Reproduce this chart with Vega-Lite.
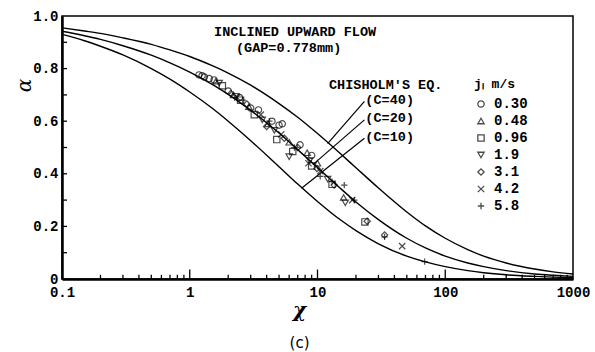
{
  "$schema": "https://vega.github.io/schema/vega-lite/v6.json",
  "width": 511,
  "height": 263,
  "autosize": {"type": "none"},
  "padding": {"left": 62, "top": 16, "right": 22, "bottom": 73},
  "background": "white",
  "config": {
    "view": {"stroke": "black", "strokeWidth": 1.5},
    "font": "Liberation Mono"
  },
  "title": {"text": "(c)", "orient": "bottom", "font": "DejaVu Sans", "fontSize": 15, "fontWeight": "normal", "offset": 16, "dx": -18, "color": "black"},
  "datasets": {
    "curves": [
      {"X": 0.1, "alpha": 0.955, "C": "40"}, {"X": 0.15, "alpha": 0.943, "C": "40"}, {"X": 0.2, "alpha": 0.934, "C": "40"}, {"X": 0.3, "alpha": 0.917, "C": "40"}, {"X": 0.5, "alpha": 0.892, "C": "40"}, {"X": 0.7, "alpha": 0.871, "C": "40"}, {"X": 1, "alpha": 0.846, "C": "40"}, {"X": 1.5, "alpha": 0.811, "C": "40"}, {"X": 2, "alpha": 0.783, "C": "40"}, {"X": 3, "alpha": 0.737, "C": "40"}, {"X": 5, "alpha": 0.667, "C": "40"}, {"X": 7, "alpha": 0.615, "C": "40"}, {"X": 10, "alpha": 0.553, "C": "40"}, {"X": 15, "alpha": 0.478, "C": "40"}, {"X": 20, "alpha": 0.423, "C": "40"}, {"X": 30, "alpha": 0.346, "C": "40"}, {"X": 50, "alpha": 0.255, "C": "40"}, {"X": 70, "alpha": 0.202, "C": "40"}, {"X": 100, "alpha": 0.155, "C": "40"}, {"X": 150, "alpha": 0.112, "C": "40"}, {"X": 200, "alpha": 0.087, "C": "40"}, {"X": 300, "alpha": 0.061, "C": "40"}, {"X": 500, "alpha": 0.038, "C": "40"}, {"X": 700, "alpha": 0.027, "C": "40"}, {"X": 1000, "alpha": 0.019, "C": "40"},
      {"X": 0.1, "alpha": 0.942, "C": "20"}, {"X": 0.15, "alpha": 0.925, "C": "20"}, {"X": 0.2, "alpha": 0.911, "C": "20"}, {"X": 0.3, "alpha": 0.887, "C": "20"}, {"X": 0.5, "alpha": 0.851, "C": "20"}, {"X": 0.7, "alpha": 0.822, "C": "20"}, {"X": 1, "alpha": 0.787, "C": "20"}, {"X": 1.5, "alpha": 0.74, "C": "20"}, {"X": 2, "alpha": 0.702, "C": "20"}, {"X": 3, "alpha": 0.641, "C": "20"}, {"X": 5, "alpha": 0.555, "C": "20"}, {"X": 7, "alpha": 0.492, "C": "20"}, {"X": 10, "alpha": 0.424, "C": "20"}, {"X": 15, "alpha": 0.346, "C": "20"}, {"X": 20, "alpha": 0.293, "C": "20"}, {"X": 30, "alpha": 0.226, "C": "20"}, {"X": 50, "alpha": 0.155, "C": "20"}, {"X": 70, "alpha": 0.118, "C": "20"}, {"X": 100, "alpha": 0.087, "C": "20"}, {"X": 150, "alpha": 0.061, "C": "20"}, {"X": 200, "alpha": 0.047, "C": "20"}, {"X": 300, "alpha": 0.032, "C": "20"}, {"X": 500, "alpha": 0.019, "C": "20"}, {"X": 700, "alpha": 0.014, "C": "20"}, {"X": 1000, "alpha": 0.01, "C": "20"},
      {"X": 0.1, "alpha": 0.93, "C": "10"}, {"X": 0.15, "alpha": 0.906, "C": "10"}, {"X": 0.2, "alpha": 0.885, "C": "10"}, {"X": 0.3, "alpha": 0.852, "C": "10"}, {"X": 0.5, "alpha": 0.8, "C": "10"}, {"X": 0.7, "alpha": 0.76, "C": "10"}, {"X": 1, "alpha": 0.711, "C": "10"}, {"X": 1.5, "alpha": 0.649, "C": "10"}, {"X": 2, "alpha": 0.6, "C": "10"}, {"X": 3, "alpha": 0.526, "C": "10"}, {"X": 5, "alpha": 0.427, "C": "10"}, {"X": 7, "alpha": 0.361, "C": "10"}, {"X": 10, "alpha": 0.295, "C": "10"}, {"X": 15, "alpha": 0.226, "C": "10"}, {"X": 20, "alpha": 0.184, "C": "10"}, {"X": 30, "alpha": 0.134, "C": "10"}, {"X": 50, "alpha": 0.087, "C": "10"}, {"X": 70, "alpha": 0.065, "C": "10"}, {"X": 100, "alpha": 0.047, "C": "10"}, {"X": 150, "alpha": 0.032, "C": "10"}, {"X": 200, "alpha": 0.024, "C": "10"}, {"X": 300, "alpha": 0.016, "C": "10"}, {"X": 500, "alpha": 0.01, "C": "10"}, {"X": 700, "alpha": 0.007, "C": "10"}, {"X": 1000, "alpha": 0.005, "C": "10"}
    ],
    "points": [
      {"X": 1.18, "alpha": 0.776, "jL": "0.30"}, {"X": 1.25, "alpha": 0.773, "jL": "0.30"}, {"X": 1.3, "alpha": 0.768, "jL": "0.30"}, {"X": 1.42, "alpha": 0.762, "jL": "0.30"}, {"X": 1.55, "alpha": 0.757, "jL": "0.30"}, {"X": 2.0, "alpha": 0.715, "jL": "0.30"}, {"X": 2.45, "alpha": 0.69, "jL": "0.30"}, {"X": 3.0, "alpha": 0.65, "jL": "0.30"}, {"X": 3.45, "alpha": 0.643, "jL": "0.30"}, {"X": 4.4, "alpha": 0.6, "jL": "0.30"}, {"X": 5.0, "alpha": 0.585, "jL": "0.30"}, {"X": 5.3, "alpha": 0.59, "jL": "0.30"}, {"X": 7.3, "alpha": 0.51, "jL": "0.30"}, {"X": 9.0, "alpha": 0.47, "jL": "0.30"},
      {"X": 1.6, "alpha": 0.752, "jL": "0.48"}, {"X": 2.2, "alpha": 0.7, "jL": "0.48"}, {"X": 2.9, "alpha": 0.655, "jL": "0.48"}, {"X": 4.1, "alpha": 0.59, "jL": "0.48"}, {"X": 6.0, "alpha": 0.52, "jL": "0.48"}, {"X": 8.3, "alpha": 0.48, "jL": "0.48"}, {"X": 10.0, "alpha": 0.44, "jL": "0.48"}, {"X": 16.0, "alpha": 0.31, "jL": "0.48"},
      {"X": 1.8, "alpha": 0.735, "jL": "0.96"}, {"X": 2.5, "alpha": 0.68, "jL": "0.96"}, {"X": 3.2, "alpha": 0.625, "jL": "0.96"}, {"X": 4.8, "alpha": 0.53, "jL": "0.96"}, {"X": 6.4, "alpha": 0.485, "jL": "0.96"}, {"X": 9.0, "alpha": 0.43, "jL": "0.96"}, {"X": 13.0, "alpha": 0.36, "jL": "0.96"}, {"X": 23.5, "alpha": 0.217, "jL": "0.96"},
      {"X": 1.7, "alpha": 0.745, "jL": "1.9"}, {"X": 2.3, "alpha": 0.695, "jL": "1.9"}, {"X": 3.7, "alpha": 0.605, "jL": "1.9"}, {"X": 4.6, "alpha": 0.565, "jL": "1.9"}, {"X": 6.0, "alpha": 0.465, "jL": "1.9"}, {"X": 8.7, "alpha": 0.45, "jL": "1.9"}, {"X": 12.0, "alpha": 0.38, "jL": "1.9"}, {"X": 16.5, "alpha": 0.29, "jL": "1.9"},
      {"X": 2.1, "alpha": 0.705, "jL": "3.1"}, {"X": 2.8, "alpha": 0.665, "jL": "3.1"}, {"X": 4.0, "alpha": 0.58, "jL": "3.1"}, {"X": 5.5, "alpha": 0.535, "jL": "3.1"}, {"X": 7.0, "alpha": 0.5, "jL": "3.1"}, {"X": 9.9, "alpha": 0.42, "jL": "3.1"}, {"X": 13.5, "alpha": 0.357, "jL": "3.1"}, {"X": 24.5, "alpha": 0.22, "jL": "3.1"}, {"X": 33.5, "alpha": 0.167, "jL": "3.1"},
      {"X": 2.35, "alpha": 0.69, "jL": "4.2"}, {"X": 3.6, "alpha": 0.625, "jL": "4.2"}, {"X": 5.2, "alpha": 0.55, "jL": "4.2"}, {"X": 8.5, "alpha": 0.44, "jL": "4.2"}, {"X": 10.5, "alpha": 0.41, "jL": "4.2"}, {"X": 18.7, "alpha": 0.3, "jL": "4.2"}, {"X": 46.0, "alpha": 0.125, "jL": "4.2"},
      {"X": 2.6, "alpha": 0.68, "jL": "5.8"}, {"X": 4.2, "alpha": 0.6, "jL": "5.8"}, {"X": 6.6, "alpha": 0.5, "jL": "5.8"}, {"X": 10.5, "alpha": 0.39, "jL": "5.8"}, {"X": 13.0, "alpha": 0.37, "jL": "5.8"}, {"X": 16.2, "alpha": 0.357, "jL": "5.8"}, {"X": 19.4, "alpha": 0.3, "jL": "5.8"}, {"X": 33.5, "alpha": 0.16, "jL": "5.8"}, {"X": 69.0, "alpha": 0.066, "jL": "5.8"}
    ],
    "leaders": [
      {"X1": 23.3, "a1": 0.675, "X2": 12.0, "a2": 0.515},
      {"X1": 23.3, "a1": 0.605, "X2": 9.2, "a2": 0.435},
      {"X1": 23.3, "a1": 0.535, "X2": 7.5, "a2": 0.345}
    ],
    "notes": [
      {"X": 1.55, "alpha": 0.938, "text": "INCLINED UPWARD FLOW"},
      {"X": 2.3, "alpha": 0.877, "text": "(GAP=0.778mm)"},
      {"X": 12.3, "alpha": 0.738, "text": "CHISHOLM'S EQ."},
      {"X": 23.7, "alpha": 0.681, "text": "(C=40)"},
      {"X": 23.7, "alpha": 0.612, "text": "(C=20)"},
      {"X": 23.7, "alpha": 0.54, "text": "(C=10)"}
    ],
    "xmajor": [{"t": 1}, {"t": 10}, {"t": 100}],
    "xminor": [{"t": 0.2}, {"t": 0.3}, {"t": 0.4}, {"t": 0.5}, {"t": 0.6}, {"t": 0.7}, {"t": 0.8}, {"t": 0.9}, {"t": 2}, {"t": 3}, {"t": 4}, {"t": 5}, {"t": 6}, {"t": 7}, {"t": 8}, {"t": 9}, {"t": 20}, {"t": 30}, {"t": 40}, {"t": 50}, {"t": 60}, {"t": 70}, {"t": 80}, {"t": 90}, {"t": 200}, {"t": 300}, {"t": 400}, {"t": 500}, {"t": 600}, {"t": 700}, {"t": 800}, {"t": 900}],
    "yticks": [{"t": 0.1}, {"t": 0.2}, {"t": 0.3}, {"t": 0.4}, {"t": 0.5}, {"t": 0.6}, {"t": 0.7}, {"t": 0.8}, {"t": 0.9}]
  },
  "layer": [
    {
      "data": {"name": "curves"},
      "mark": {"type": "line", "color": "black", "strokeWidth": 1.4, "interpolate": "monotone"},
      "encoding": {
        "x": {
          "field": "X", "type": "quantitative",
          "scale": {"type": "log", "domain": [0.1, 1000]},
          "axis": {
            "values": [0.1, 1, 10, 100, 1000],
            "format": "~g",
            "ticks": false,
            "domainColor": "black", "domainWidth": 2.5,
            "labelFont": "Liberation Mono", "labelFontSize": 14, "labelFontWeight": "bold", "labelColor": "black",
            "labelPadding": 6, "labelOverlap": false, "labelFlush": false,
            "grid": false,
            "title": "χ", "titleFont": "DejaVu Serif", "titleFontStyle": "italic", "titleFontWeight": "bold", "titleFontSize": 20, "titleColor": "black",
            "titleY": 31, "titleBaseline": "middle", "titleX": 237
          }
        },
        "y": {
          "field": "alpha", "type": "quantitative",
          "scale": {"domain": [0, 1]},
          "axis": {
            "values": [0, 0.2, 0.4, 0.6, 0.8, 1.0],
            "labelExpr": "datum.value == 0 ? '0' : format(datum.value, '.1f')",
            "ticks": false,
            "domainColor": "black", "domainWidth": 2.5,
            "labelFont": "Liberation Mono", "labelFontSize": 14, "labelFontWeight": "bold", "labelColor": "black",
            "labelPadding": 4, "labelOverlap": false, "labelFlush": false,
            "grid": false,
            "title": "α", "titleFont": "DejaVu Serif", "titleFontStyle": "italic", "titleFontSize": 20, "titleFontWeight": "normal", "titleColor": "black",
            "titleX": -28, "titleY": 69
          }
        },
        "detail": {"field": "C", "type": "nominal"}
      }
    },
    {
      "data": {"name": "xmajor"},
      "mark": {"type": "rule", "color": "black", "strokeWidth": 1.3},
      "encoding": {
        "x": {"field": "t", "type": "quantitative"},
        "y": {"datum": 0},
        "y2": {"datum": 0.036}
      }
    },
    {
      "data": {"name": "xminor"},
      "mark": {"type": "rule", "color": "black", "strokeWidth": 1.3},
      "encoding": {
        "x": {"field": "t", "type": "quantitative"},
        "y": {"datum": 0},
        "y2": {"datum": 0.016}
      }
    },
    {
      "data": {"name": "yticks"},
      "mark": {"type": "rule", "color": "black", "strokeWidth": 1.3},
      "encoding": {
        "y": {"field": "t", "type": "quantitative"},
        "x": {"datum": 0.1},
        "x2": {"datum": 0.1095}
      }
    },
    {
      "data": {"name": "leaders"},
      "mark": {"type": "rule", "color": "black", "strokeWidth": 1.2},
      "encoding": {
        "x": {"field": "X1", "type": "quantitative"},
        "y": {"field": "a1", "type": "quantitative"},
        "x2": {"field": "X2"},
        "y2": {"field": "a2"}
      }
    },
    {
      "data": {"name": "points"},
      "mark": {"type": "point", "filled": false, "color": "black", "strokeWidth": 1.2, "size": 40},
      "encoding": {
        "x": {"field": "X", "type": "quantitative"},
        "y": {"field": "alpha", "type": "quantitative"},
        "shape": {
          "field": "jL", "type": "nominal",
          "scale": {
            "domain": ["0.30", "0.48", "0.96", "1.9", "3.1", "4.2", "5.8"],
            "range": ["circle", "triangle-up", "square", "triangle-down", "diamond", "M-1,-1L1,1M-1,1L1,-1", "M-1,0L1,0M0,-1L0,1"]
          },
          "legend": {
            "orient": "none", "legendX": 412, "legendY": 62,
            "title": "jₗ  m/s", "titleFont": "Liberation Mono", "titleFontSize": 13, "titleFontWeight": "bold", "titleColor": "black", "titlePadding": 6,
            "labelFont": "Liberation Mono", "labelFontSize": 14, "labelFontWeight": "bold", "labelColor": "black",
            "symbolSize": 40, "symbolStrokeWidth": 1.3, "symbolStrokeColor": "black", "symbolFillColor": "transparent",
            "rowPadding": 3, "labelOffset": 6
          }
        }
      }
    },
    {
      "data": {"name": "notes"},
      "mark": {"type": "text", "align": "left", "baseline": "middle", "font": "Liberation Mono", "fontSize": 13.5, "fontWeight": "bold", "color": "black"},
      "encoding": {
        "x": {"field": "X", "type": "quantitative"},
        "y": {"field": "alpha", "type": "quantitative"},
        "text": {"field": "text", "type": "nominal"}
      }
    }
  ]
}
